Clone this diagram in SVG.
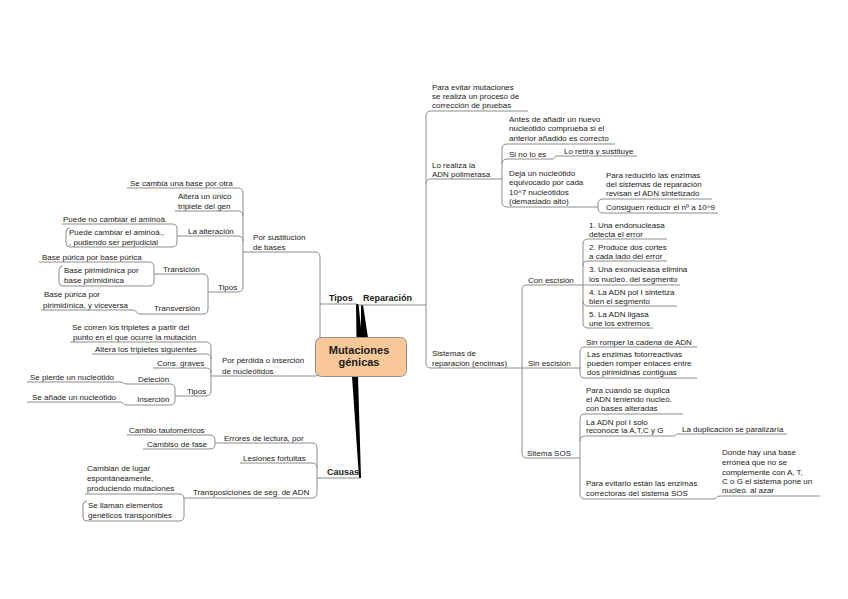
<svg xmlns="http://www.w3.org/2000/svg" width="848" height="599" viewBox="0 0 848 599">
<style>
text{font-family:"Liberation Sans",Arial,sans-serif;font-size:8px;fill:#1a1a1a}
.b{font-weight:bold;font-size:9px}
.m{font-weight:bold;font-size:11px;text-anchor:middle}
.u,.c{fill:none;stroke:#8c8c8c;stroke-width:1}
.w{fill:#000}
</style>
<rect width="848" height="599" fill="#fff"/>
<g id="connectors">
<path class="w" d="M356 304 L358.5 304 L362 338 L356.5 338 Z"/>
<path class="w" d="M361 305 L363 305 L368 338 L361 338 Z"/>
<path class="w" d="M352 376 L358 376 L361 478 L359 478 Z"/>
<path class="c" d="M315 252 Q320 252 320 257 V371 Q320 376 315 376"/>
<path class="c" d="M238 188 Q243 188 243 193 V287 Q243 292 238 292 M238 211 Q243 211 243 216 M238 236 Q243 236 243 241"/>
<path class="c" d="M172 224 Q177 224 177 229 V242 Q177 247 172 247"/>
<path class="c" d="M203 274 Q208 274 208 279 V309 Q208 314 203 314"/>
<path class="c" d="M149 262 Q154 262 154 267 V281 Q154 286 149 286"/>
<path class="c" d="M133 310 C137 310 136 314 140 314"/>
<path class="c" d="M206 342 Q211 342 211 347 V391 Q211 396 206 396 M206 354 Q211 354 211 359 M206 368 Q211 368 211 373"/>
<path class="c" d="M170 384 Q175 384 175 389 V400 Q175 405 170 405"/>
<path class="c" d="M120 382 C124 382 123 384 127 384 M120 402 C124 402 123 405 127 405"/>
<path class="c" d="M312 443 Q317 443 317 448 V493 Q317 498 312 498 M312 463 Q317 463 317 468"/>
<path class="c" d="M210 435 Q215 435 215 440 V444 Q215 449 210 449"/>
<path class="c" d="M179 494 Q184 494 184 499 V516 Q184 521 179 521"/>
<path class="c" d="M431 111 Q426 111 426 116 V363 Q426 368 431 368 M426 184 Q426 179 431 179"/>
<path class="c" d="M507 144 Q502 144 502 149 V202 Q502 207 507 207 M502 164 Q502 159 507 159"/>
<path class="c" d="M552 159 C556 159 553 156 557 156"/>
<path class="c" d="M603 199 Q598 199 598 204 V208 Q598 213 603 213"/>
<path class="c" d="M527 285 Q522 285 522 290 V453 Q522 458 527 458"/>
<path class="c" d="M588 239 Q583 239 583 244 V323 Q583 328 588 328 M583 266 Q583 261 588 261 M583 301 Q583 306 588 306"/>
<path class="c" d="M585 347 Q580 347 580 352 V373 Q580 378 585 378"/>
<path class="c" d="M585 414 Q580 414 580 419 V494 Q580 499 585 499 M580 441 Q580 436 585 436"/>
<path class="c" d="M673 436 C677 436 674 434 678 434"/>
<path class="c" d="M713 499 C717 499 716 496 720 496"/>
</g>
<g id="central">
<rect x="315.5" y="337.5" width="91" height="39" rx="6" fill="#F9C898" stroke="#8f8f8f"/>
<text class="m" x="359" y="354">Mutaciones</text>
<text class="m" x="359" y="366">génicas</text>
</g>
<g id="tipos"><text class="b" x="329" y="301">Tipos</text><path class="u" d="M320 304 H357"/></g>
<g id="reparacion"><text class="b" x="363" y="301">Reparación</text><path class="u" d="M358 305 H426"/></g>
<g id="causas"><text class="b" x="327" y="475">Causas</text><path class="u" d="M317 478 H360"/></g>
<g id="por-sustitucion"><text x="253" y="240">Por sustitución</text><text x="253" y="250">de bases</text><path class="u" d="M243 252 H315"/></g>
<g id="se-cambia"><text x="130" y="186">Se cambia una base por otra</text><path class="u" d="M127 188 H238"/></g>
<g id="altera-unico"><text x="178" y="199">Altera un único</text><text x="178" y="209">triplete del gen</text><path class="u" d="M175 211 H238"/></g>
<g id="la-alteracion"><text x="188" y="234">La alteración</text><path class="u" d="M177 236 H238"/></g>
<g id="puede-no"><text x="63" y="222">Puede no cambiar el aminoá.</text><path class="u" d="M62 224 H172"/></g>
<g id="puede-cambiar"><text x="69" y="235">Puede cambiar el aminoá.,</text><text x="69" y="245">, pudiendo ser perjudicial</text><path class="u" d="M70 228 Q66 228 66 232 V243 Q66 247 70 247 H172"/></g>
<g id="tipos-sust"><text x="218" y="290">Tipos</text><path class="u" d="M208 292 H238"/></g>
<g id="transicion"><text x="163" y="272">Transición</text><path class="u" d="M154 274 H203"/></g>
<g id="purica-purica"><text x="42" y="260">Base púrica por base púrica</text><path class="u" d="M39 262 H149"/></g>
<g id="pirim-pirim"><text x="64" y="273">Base pirimidínica por</text><text x="64" y="283">base pirimidínica</text><path class="u" d="M63 266 Q59 266 59 270 V282 Q59 286 63 286 H149"/></g>
<g id="transversion"><text x="154" y="311">Transversión</text><path class="u" d="M140 314 H203"/></g>
<g id="purica-pirim"><text x="44" y="297">Base púrica por</text><text x="43" y="308">pirimidínica, y viceversa</text><path class="u" d="M41 310 H133"/></g>
<g id="por-perdida"><text x="222" y="363">Por pérdida o inserción</text><text x="222" y="374">de nucleótidos</text><path class="u" d="M211 376 H315"/></g>
<g id="se-corren"><text x="72" y="330">Se corren los tripletes a partir del</text><text x="73" y="340">punto en el que ocurre la mutación</text><path class="u" d="M70 342 H206"/></g>
<g id="altera-tripletes"><text x="95" y="352">Altera los tripletes siguientes</text><path class="u" d="M92 354 H206"/></g>
<g id="cons-graves"><text x="157" y="366">Cons. graves</text><path class="u" d="M153 368 H206"/></g>
<g id="tipos-perd"><text x="187" y="394">Tipos</text><path class="u" d="M175 396 H206"/></g>
<g id="delecion"><text x="138" y="382">Deleción</text><path class="u" d="M127 384 H170"/></g>
<g id="se-pierde"><text x="30" y="380">Se pierde un nucleótido</text><path class="u" d="M27 382 H120"/></g>
<g id="insercion"><text x="137" y="402">Inserción</text><path class="u" d="M127 405 H170"/></g>
<g id="se-anade"><text x="32" y="400">Se añade un nucleótido</text><path class="u" d="M27 402 H120"/></g>
<g id="errores"><text x="224" y="441">Errores de lectura, por</text><path class="u" d="M215 443 H312"/></g>
<g id="tautomericos"><text x="129" y="433">Cambio tautoméricos</text><path class="u" d="M127 435 H210"/></g>
<g id="cambios-fase"><text x="147" y="447">Cambiso de fase</text><path class="u" d="M143 449 H210"/></g>
<g id="lesiones"><text x="243" y="461">Lesiones fortuitas</text><path class="u" d="M240 463 H312"/></g>
<g id="transposiciones"><text x="193" y="495">Transposiciones de seg. de ADN</text><path class="u" d="M184 498 H312"/></g>
<g id="cambian-lugar"><text x="87" y="471">Cambian de lugar</text><text x="87" y="481">espontáneamente,</text><text x="87" y="491">produciendo mutaciones</text><path class="u" d="M85 494 H179"/></g>
<g id="se-llaman"><text x="88" y="508">Se llaman elementos</text><text x="88" y="518">genéticos transponibles</text><path class="u" d="M87 501 Q83 501 83 505 V517 Q83 521 87 521 H179"/></g>
<g id="para-evitar"><text x="432" y="90">Para evitar mutaciones</text><text x="432" y="99">se realiza un proceso de</text><text x="432" y="108">corrección de pruebas</text><path class="u" d="M431 111 H528"/></g>
<g id="lo-realiza"><text x="432" y="168">Lo realiza la</text><text x="432" y="177">ADN polimerasa</text><path class="u" d="M431 179 H502"/></g>
<g id="antes"><text x="509" y="122">Antes de añadir un nuevo</text><text x="509" y="131">nucleótido comprueba si el</text><text x="509" y="141">anterior añadido es correcto</text><path class="u" d="M507 144 H615"/></g>
<g id="si-no"><text x="509" y="157">Si no lo es</text><path class="u" d="M507 159 H552"/></g>
<g id="lo-retira"><text x="564" y="154">Lo retira y sustituye</text><path class="u" d="M557 156 H637"/></g>
<g id="deja"><text x="509" y="176">Deja un nucleótido</text><text x="509" y="185">equivocado por cada</text><text x="509" y="195">10^7 nucleótidos</text><text x="509" y="204">(demasiado alto)</text><path class="u" d="M507 207 H598"/></g>
<g id="para-reducir"><text x="606" y="178">Para reducirlo las enzimas</text><text x="606" y="187">del sistemas de reparación</text><text x="606" y="196">revisan el ADN sintetizado</text><path class="u" d="M603 199 H712"/></g>
<g id="consiguen"><text x="606" y="210">Consiguen reducir el nº a 10^9</text><path class="u" d="M603 213 H718"/></g>
<g id="sistemas"><text x="432" y="356">Sistemas de</text><text x="432" y="366">reparación (encimas)</text><path class="u" d="M431 368 H522"/></g>
<g id="con-escision"><text x="528" y="283">Con escisión</text><path class="u" d="M527 285 H583"/></g>
<g id="paso1"><text x="589" y="228">1. Una endonucleasa</text><text x="589" y="237">detecta el error</text><path class="u" d="M588 239 H667"/></g>
<g id="paso2"><text x="589" y="250">2. Produce dos cortes</text><text x="589" y="259">a cada lado del error</text><path class="u" d="M588 261 H667"/></g>
<g id="paso3"><text x="589" y="272">3. Una exonucleasa elimina</text><text x="589" y="282">los nucleó. del segmento</text><path class="u" d="M583 285 H680"/></g>
<g id="paso4"><text x="589" y="295">4. La ADN pol I sintetiza</text><text x="589" y="304">bien el segmento</text><path class="u" d="M588 306 H677"/></g>
<g id="paso5"><text x="589" y="317">5. La ADN ligasa</text><text x="589" y="326">une los extremos</text><path class="u" d="M588 328 H653"/></g>
<g id="sin-escision"><text x="528" y="366">Sin escisión</text><path class="u" d="M522 368 H580"/></g>
<g id="sin-romper"><text x="586" y="345">Sin romper la cadena de ADN</text><path class="u" d="M585 347 H697"/></g>
<g id="fotorreactivas"><text x="587" y="357">Las enzimas fotorreactivas</text><text x="587" y="366">pueden romper enlaces entre</text><text x="587" y="375">dos pirimidinas contiguas</text><path class="u" d="M585 378 H697"/></g>
<g id="sistema-sos"><text x="527" y="456">Sitema SOS</text><path class="u" d="M527 458 H580"/></g>
<g id="para-cuando"><text x="586" y="393">Para cuando se duplica</text><text x="586" y="402">el ADN teniendo nucleó.</text><text x="586" y="411">con bases alteradas</text><path class="u" d="M585 414 H683"/></g>
<g id="adn-pol-solo"><text x="586" y="425">La ADN pol I solo</text><text x="586" y="433">reconoce la A,T,C y G</text><path class="u" d="M585 436 H673"/></g>
<g id="duplicacion"><text x="682" y="432">La duplicación se paralizaría</text><path class="u" d="M678 434 H787"/></g>
<g id="para-evitarlo"><text x="586" y="486">Para evitarlo están las enzimas</text><text x="586" y="496">correctoras del sistema SOS</text><path class="u" d="M585 499 H713"/></g>
<g id="donde"><text x="722" y="455">Donde hay una base</text><text x="722" y="465">errónea que no se</text><text x="722" y="475">complemente con A, T,</text><text x="722" y="484">C o G el sistema pone un</text><text x="722" y="493">nucleó. al azar</text><path class="u" d="M720 496 H820"/></g>
</svg>
